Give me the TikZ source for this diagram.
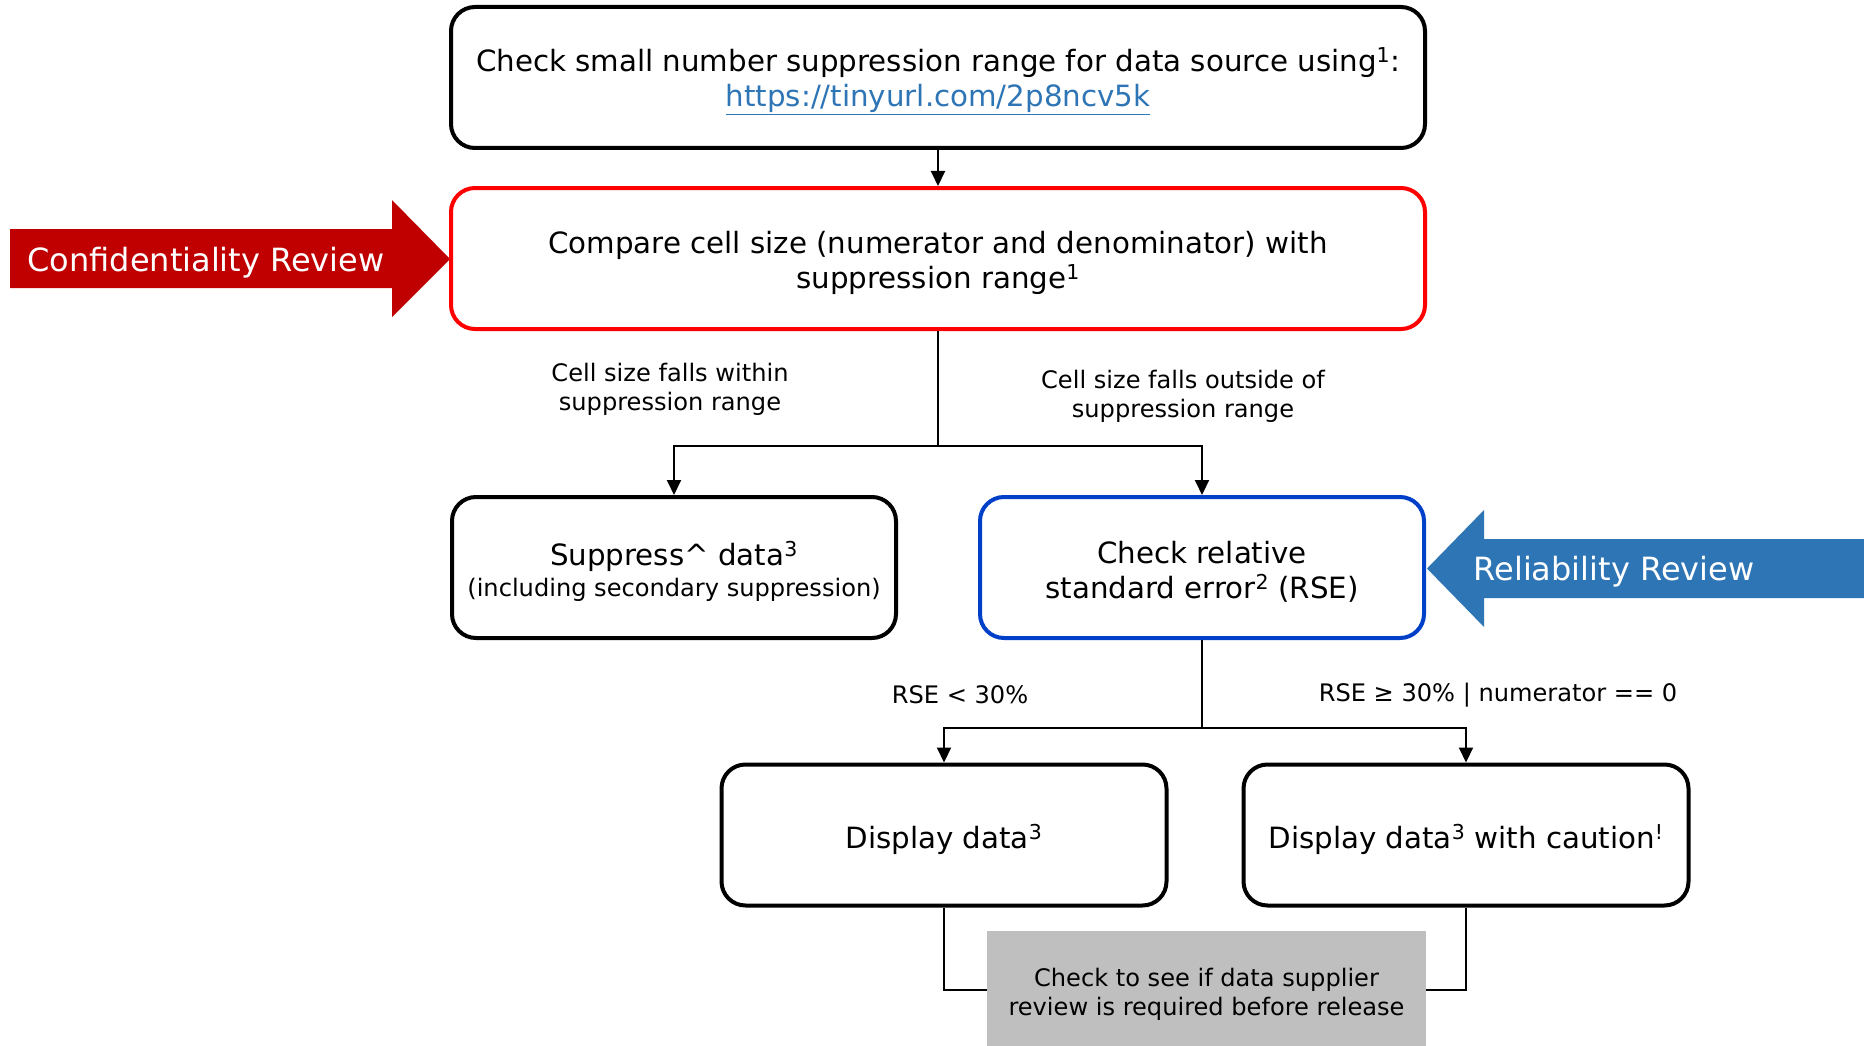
\documentclass[tikz,border=0pt]{standalone}
\usepackage{fontspec}
\setmainfont{DejaVu Sans}
\usetikzlibrary{arrows.meta}
\definecolor{confred}{HTML}{C00000}
\definecolor{relblue}{HTML}{2E75B6}
\definecolor{boxred}{HTML}{FF0000}
\definecolor{boxblue}{HTML}{0040C8}
\definecolor{linkblue}{HTML}{2E75B6}
\definecolor{notegray}{HTML}{BFBFBF}

\begin{document}
\begin{tikzpicture}[x=1pt,y=-1pt,
  stepbox/.style={draw=black, line width=4pt, rounded corners=24pt,
    minimum width=#1, minimum height=141pt, inner sep=0pt},
  stepbox/.default=974pt,
  steptext/.style={align=center, inner sep=0pt, yshift=-4pt,
    font=\fontsize{29.3}{35}\selectfont},
  note/.style={fill=notegray, minimum width=439pt, minimum height=118pt,
    inner sep=0pt},
  smalltext/.style={align=center, inner sep=0pt, yshift=-3pt,
    font=\fontsize{24.1}{29}\selectfont},
  conn/.style={draw=black, line width=2pt},
  flow/.style={conn, -{Triangle[length=15pt,width=14pt]}},
  banner/.style={inner sep=0pt, text=white, yshift=-4pt,
    font=\fontsize{32}{36}\selectfont}
]
\useasboundingbox (0,0) rectangle (1864,1046);
\fill[white] (0,0) rectangle (1864,1046);

% review banners
\fill[confred] (10,229) -- (392,229) -- (392,200) -- (450,259) -- (392,317)
  -- (392,288) -- (10,288) -- cycle;
\node[banner] (conflabel) at (206,259) {Confidentiality Review};

\fill[relblue] (1864,539) -- (1484,539) -- (1484,510) -- (1427,568.5)
  -- (1484,627) -- (1484,598) -- (1864,598) -- cycle;
\node[banner] (rellabel) at (1614,568) {Reliability Review};

% process steps
\node[stepbox] (range) at (938,77.5) {};
\node[steptext] (rangetext) at (range.center)
  {Check small number suppression range for data source using\textsuperscript{1}:\\
   \textcolor{linkblue}{\underline{https://tinyurl.com/2p8ncv5k}}};

\node[stepbox, draw=boxred] (compare) at (938,258.5) {};
\node[steptext] (comparetext) at (compare.center)
  {Compare cell size (numerator and denominator) with\\
   suppression range\textsuperscript{1}};

\node[stepbox=444pt] (suppress) at (674,567.5) {};
\node[steptext] (suppresstext) at (suppress.center)
  {Suppress\textasciicircum{} data\textsuperscript{3}\\[-4pt]
   {\fontsize{24.1}{29}\selectfont (including secondary suppression)}};

\node[stepbox=444pt, draw=boxblue] (rse) at (1202,567.5) {};
\node[steptext] (rsetext) at (rse.center)
  {Check relative\\ standard error\textsuperscript{2} (RSE)};

\node[stepbox=445pt] (display) at (944,835) {};
\node[steptext] (displaytext) at (display.center)
  {Display data\textsuperscript{3}};

\node[stepbox=445pt] (caution) at (1466,835) {};
\node[steptext] (cautiontext) at (caution.center)
  {Display data\textsuperscript{3} with caution\textsuperscript{!}};

\node[note] (supplier) at (1206.5,990) {};
\node[smalltext, yshift=-1pt] (suppliertext) at (supplier.center)
  {Check to see if data supplier\\ review is required before release};

% branch labels
\node[smalltext] (within) at (670,386) {Cell size falls within\\ suppression range};
\node[smalltext] (outside) at (1183,393) {Cell size falls outside of\\ suppression range};
\node[smalltext] (rselow) at (960,692) {RSE < 30\%};
\node[smalltext] (rsehigh) at (1498,692) {RSE ≥ 30\% | numerator == 0};

% connectors
\coordinate (split1) at (938,446);
\coordinate (split2) at (1202,728);
\draw[flow] (range.south) -- (compare.north);
\draw[conn] (compare.south) -- (split1);
\draw[flow] (split1) -| (suppress.north);
\draw[flow] (split1) -| (rse.north);
\draw[conn] (rse.south) -- (split2);
\draw[flow] (split2) -| (display.north);
\draw[flow] (split2) -| (caution.north);
\draw[conn] (display.south) |- (supplier.west);
\draw[conn] (caution.south) |- (supplier.east);
\end{tikzpicture}
\end{document}
